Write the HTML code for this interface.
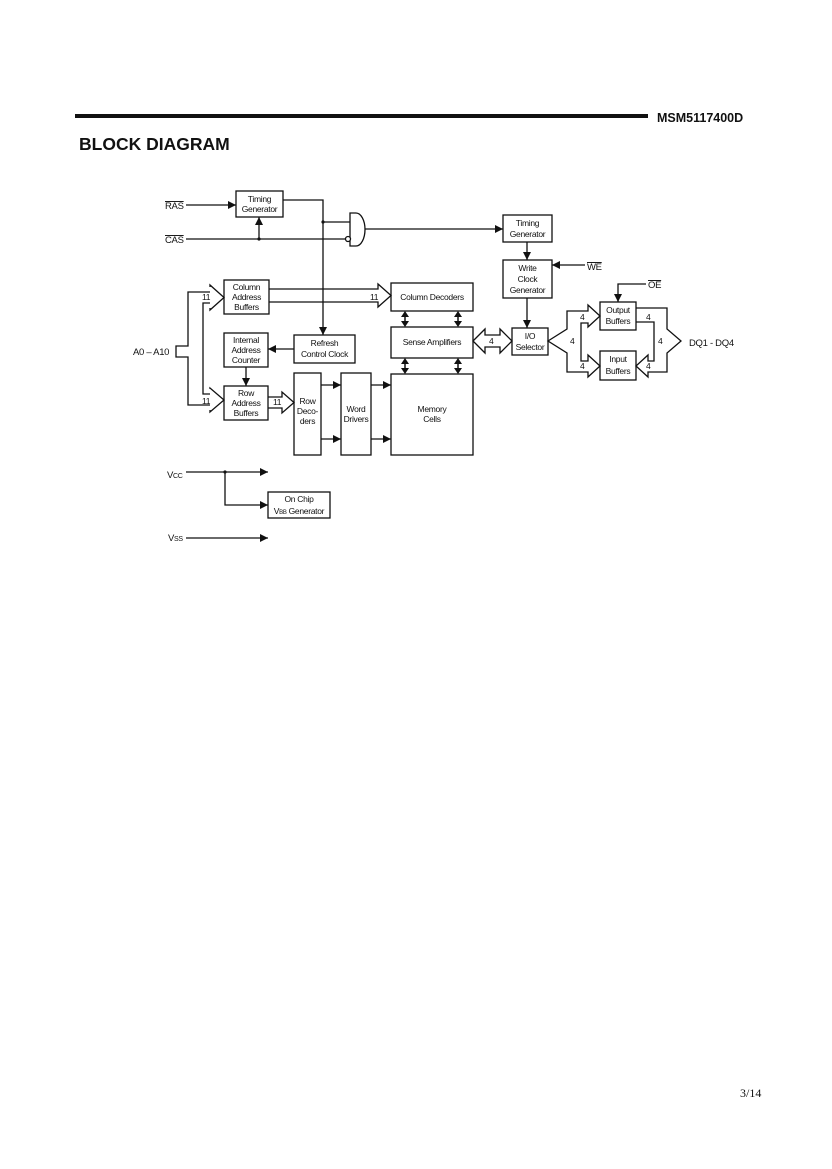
<!DOCTYPE html>
<html><head><style>
html,body{margin:0;padding:0;background:#fff;}
svg{display:block;}
text{font-family:"Liberation Sans",Arial,sans-serif;font-size:8.5px;fill:#111;letter-spacing:-0.3px;}
</style></head><body>
<svg width="832" height="1169" viewBox="0 0 832 1169" xmlns="http://www.w3.org/2000/svg">
<defs><marker id="a" markerWidth="8" markerHeight="8" refX="8" refY="4" orient="auto" markerUnits="userSpaceOnUse"><path d="M0,0 L8,4 L0,8z" fill="#111"/></marker></defs>
<rect x="75" y="114" width="573" height="4" fill="#111"/>
<text x="657" y="122" style="font-size:12.5px;font-weight:bold;letter-spacing:0">MSM5117400D</text>
<text x="79" y="150" style="font-size:17.5px;font-weight:bold;letter-spacing:0">BLOCK DIAGRAM</text>
<g fill="none" stroke="#111" stroke-width="1.3">
<rect x="236" y="191" width="47" height="26"/>
<rect x="503" y="215" width="49" height="27"/>
<rect x="503" y="260" width="49" height="38"/>
<rect x="512" y="328" width="36" height="27"/>
<rect x="224" y="280" width="45" height="34"/>
<rect x="391" y="283" width="82" height="28"/>
<rect x="391" y="327" width="82" height="31"/>
<rect x="391" y="374" width="82" height="81"/>
<rect x="224" y="333" width="44" height="34"/>
<rect x="294" y="335" width="61" height="28"/>
<rect x="224" y="386" width="44" height="34"/>
<rect x="294" y="373" width="27" height="82"/>
<rect x="341" y="373" width="30" height="82"/>
<rect x="600" y="302" width="36" height="28"/>
<rect x="600" y="351" width="36" height="29"/>
<rect x="268" y="492" width="62" height="26"/>
<path d="M350,213 L356,213 A9,16.5 0 0 1 356,246 L350,246 Z"/>
<circle cx="348" cy="239" r="2.5" fill="#fff"/>
<line x1="186" y1="205" x2="236" y2="205" marker-end="url(#a)"/>
<line x1="186" y1="239" x2="345" y2="239"/>
<line x1="259" y1="239" x2="259" y2="217" marker-end="url(#a)"/>
<polyline points="283,200 323,200 323,335" marker-end="url(#a)"/>
<line x1="323" y1="222" x2="350" y2="222"/>
<line x1="365" y1="229" x2="503" y2="229" marker-end="url(#a)"/>
<line x1="527" y1="242" x2="527" y2="260" marker-end="url(#a)"/>
<line x1="585" y1="265" x2="552" y2="265" marker-end="url(#a)"/>
<line x1="527" y1="298" x2="527" y2="328" marker-end="url(#a)"/>
<polyline points="646,284 618,284 618,302" marker-end="url(#a)"/>
<line x1="294" y1="349" x2="268" y2="349" marker-end="url(#a)"/>
<line x1="246" y1="367" x2="246" y2="386" marker-end="url(#a)"/>
<line x1="321" y1="385" x2="341" y2="385" marker-end="url(#a)"/>
<line x1="321" y1="439" x2="341" y2="439" marker-end="url(#a)"/>
<line x1="371" y1="385" x2="391" y2="385" marker-end="url(#a)"/>
<line x1="371" y1="439" x2="391" y2="439" marker-end="url(#a)"/>
<line x1="186" y1="472" x2="268" y2="472" marker-end="url(#a)"/>
<polyline points="225,472 225,505 268,505" marker-end="url(#a)"/>
<line x1="186" y1="538" x2="268" y2="538" marker-end="url(#a)"/>
<polyline points="210,292 188,292 188,346 176,346 176,357 188,357 188,405 210,405"/>
<polyline points="210,303 203,303 203,394 210,394"/>
<polyline points="210,287 210,285 224,297.5 210,310 210,308"/>
<polyline points="210,389 210,388 224,400 210,412 210,410"/>
<path d="M269,289 L378,289 L378,284 L391,295.5 L378,307 L378,302 L269,302"/>
<path d="M268,397 L282,397 L282,392 L294,402.5 L282,413 L282,408 L268,408"/>
<path d="M473,341 L485,329 L485,335 L500,335 L500,329 L512,341 L500,353 L500,347 L485,347 L485,353 Z"/>
<path d="M548,341 L567,329 L567,311 L588,311 L588,305 L600,316 L588,327 L588,323 L581,323 L581,361 L588,361 L588,355 L600,366 L588,377 L588,372 L567,372 L567,353 Z"/>
<path d="M636,308 L667,308 L667,329 L681,341 L667,353 L667,372 L648,372 L648,377 L636,366 L648,355 L648,361 L654,361 L654,322 L636,322"/>
<g stroke-width="1.5">
<line x1="405" y1="313" x2="405" y2="325"/><line x1="458" y1="313" x2="458" y2="325"/>
<line x1="405" y1="360" x2="405" y2="372"/><line x1="458" y1="360" x2="458" y2="372"/>
</g>
</g>
<g fill="#111">
<path d="M401,317 L405,311 L409,317Z M401,321 L405,327 L409,321Z M454,317 L458,311 L462,317Z M454,321 L458,327 L462,321Z"/>
<path d="M401,364 L405,358 L409,364Z M401,368 L405,374 L409,368Z M454,364 L458,358 L462,364Z M454,368 L458,374 L462,368Z"/>
<circle cx="323" cy="222" r="1.6"/><circle cx="259" cy="239" r="1.6"/><circle cx="225" cy="472" r="1.6"/>
</g>
<g text-anchor="middle">
<text x="259.5" y="202">Timing</text><text x="259.5" y="212">Generator</text>
<text x="527.5" y="226">Timing</text><text x="527.5" y="237">Generator</text>
<text x="527.5" y="271">Write</text><text x="527.5" y="282">Clock</text><text x="527.5" y="293">Generator</text>
<text x="530" y="339">I/O</text><text x="530" y="350">Selector</text>
<text x="246.5" y="290">Column</text><text x="246.5" y="300">Address</text><text x="246.5" y="310">Buffers</text>
<text x="432" y="300">Column Decoders</text>
<text x="432" y="345">Sense Amplifiers</text>
<text x="432" y="412">Memory</text><text x="432" y="422">Cells</text>
<text x="246" y="343">Internal</text><text x="246" y="353">Address</text><text x="246" y="363">Counter</text>
<text x="324.5" y="346">Refresh</text><text x="324.5" y="357">Control Clock</text>
<text x="246" y="396">Row</text><text x="246" y="406">Address</text><text x="246" y="416">Buffers</text>
<text x="307.5" y="404">Row</text><text x="307.5" y="414">Deco-</text><text x="307.5" y="424">ders</text>
<text x="356" y="412">Word</text><text x="356" y="422">Drivers</text>
<text x="618" y="313">Output</text><text x="618" y="324">Buffers</text>
<text x="618" y="362">Input</text><text x="618" y="374">Buffers</text>
<text x="299" y="502">On Chip</text><text x="299" y="514">V<tspan style="font-size:6px">BB</tspan> Generator</text>
</g>
<text x="165" y="209" style="font-size:9.5px;text-decoration:overline">RAS</text>
<text x="165" y="243" style="font-size:9.5px;text-decoration:overline">CAS</text>
<text x="587" y="270" style="font-size:9.5px;text-decoration:overline">WE</text>
<text x="648" y="288" style="font-size:9.5px;text-decoration:overline">OE</text>
<text x="133" y="355" style="font-size:9.5px">A0 – A10</text>
<text x="689" y="346" style="font-size:9.5px">DQ1 - DQ4</text>
<text x="167" y="478" style="font-size:9.5px">V<tspan style="font-size:7px">CC</tspan></text>
<text x="168" y="541" style="font-size:9.5px">V<tspan style="font-size:7px">SS</tspan></text>
<g style="font-size:8px">
<text x="202" y="300">11</text><text x="202" y="404">11</text>
<text x="370" y="300">11</text><text x="273" y="405">11</text>
<text x="489" y="344">4</text><text x="570" y="344">4</text>
<text x="580" y="320">4</text><text x="580" y="369">4</text>
<text x="646" y="320">4</text><text x="646" y="369">4</text><text x="658" y="344">4</text>
</g>
<text x="740" y="1097" style="font-family:'Liberation Serif',serif;font-size:12px;letter-spacing:0">3/14</text>
</svg>
</body></html>
